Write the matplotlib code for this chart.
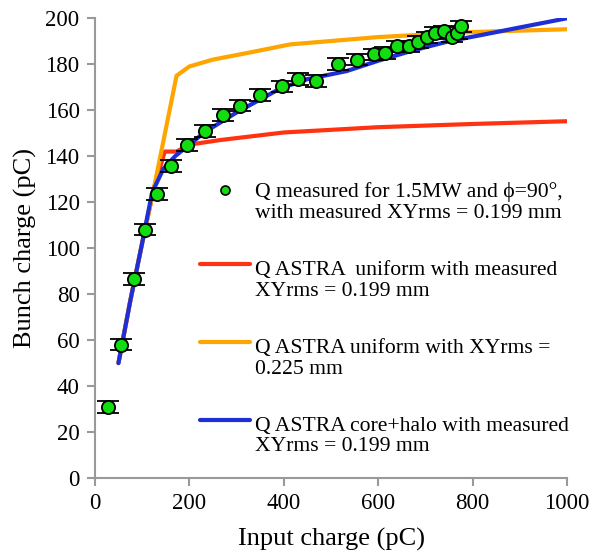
import numpy as np
import matplotlib
matplotlib.use("Agg")
import matplotlib.pyplot as plt

plt.rcParams['font.family'] = ['Liberation Serif', 'DejaVu Serif']

# measured bunch charge vs input charge
q_in = [28, 55, 83, 106, 131, 161, 195, 233, 271, 307, 350, 396, 430, 468,
        515, 555, 591, 614, 640, 665, 684, 703, 720, 739, 756, 767, 775]
q_meas = [31, 58, 86.5, 108, 123.5, 135.7, 144.8, 151, 158, 162, 166.5, 170.4,
          173.5, 172.6, 180, 182, 184.3, 184.8, 187.8, 187.8, 189.6, 191.7,
          193.5, 194.3, 192, 193.5, 196.5]
q_err = 2.5

# ASTRA simulations
red_x = [50, 75, 100, 125, 148, 173, 200, 265, 400, 600, 800, 1000]
red_y = [50, 77, 102, 126, 142, 142, 145, 147, 150.3, 152.6, 154, 155.2]

orange_x = [50, 75, 100, 125, 173, 200, 250, 321, 413, 600, 800, 1000]
orange_y = [50, 77, 102, 126, 175, 179, 182, 184.8, 188.6, 191.8, 194, 195.2]

blue_x = [50, 75, 100, 121, 145, 170, 191, 233, 300, 392, 450, 533, 600, 674,
          750, 816, 900, 1000]
blue_y = [50, 77, 102, 124, 134.5, 140, 143.5, 150.5, 159, 169.4, 173.5,
          177, 181.5, 186, 190, 192.6, 196, 200]

labels = ["Q measured for 1.5MW and \u03d5=90\u00b0,\nwith measured XYrms = 0.199 mm",
          "Q ASTRA  uniform with measured\nXYrms = 0.199 mm",
          "Q ASTRA uniform with XYrms =\n0.225 mm",
          "Q ASTRA core+halo with measured\nXYrms = 0.199 mm"]

fig = plt.figure(figsize=(5.89, 5.52), dpi=100)
ax = fig.add_axes([0.161, 0.134, 0.802, 0.833])

l_red, = ax.plot(red_x, red_y, color='#ff3311', lw=3, solid_capstyle='round', zorder=2)
l_org, = ax.plot(orange_x, orange_y, color='#ffa500', lw=3, solid_capstyle='round', zorder=2)
l_blu, = ax.plot(blue_x, blue_y, color='#1f2fd6', lw=3, solid_capstyle='round', zorder=3)
ax.errorbar(q_in, q_meas, yerr=q_err, fmt='o', ecolor='black',
            elinewidth=1.8, capsize=8, capthick=1.8, zorder=4,
            mfc='#11dd11', mec='black', mew=1.3, ms=9.5)
pts, = ax.plot([], [], 'o', mfc='#11dd11', mec='black', mew=1.2, ms=6.5)

ax.set_xlim(0, 1000)
ax.set_ylim(0, 200)
ax.set_xticks(range(0, 1001, 200))
ax.set_yticks(range(0, 201, 20))
for s in ['top', 'right']:
    ax.spines[s].set_visible(False)
for s in ['left', 'bottom']:
    ax.spines[s].set_color('#999999')
    ax.spines[s].set_linewidth(1.5)
ax.tick_params(direction='out', length=6, width=1.5, color='#999999',
               labelsize=16.5, pad=5)
ax.set_xlabel("Input charge (pC)", fontsize=19, labelpad=10)
ax.set_ylabel("Bunch charge (pC)", fontsize=19, labelpad=6)

leg = ax.legend([pts, l_red, l_org, l_blu], labels, loc='upper left',
                bbox_to_anchor=(0.222, 0.643), frameon=False, fontsize=15.6,
                handlelength=2.3, handletextpad=0.25, labelspacing=1.75,
                borderaxespad=0, borderpad=0)
for t in leg.get_texts():
    t.set_linespacing(1.13)
# handles sit level with the first line of each label
for h, dy in zip(leg.legend_handles, [8.5, 12, 12, 11.5]):
    h.set_ydata(np.asarray(h.get_ydata()) + dy)

fig.savefig("out.png", dpi=100)
